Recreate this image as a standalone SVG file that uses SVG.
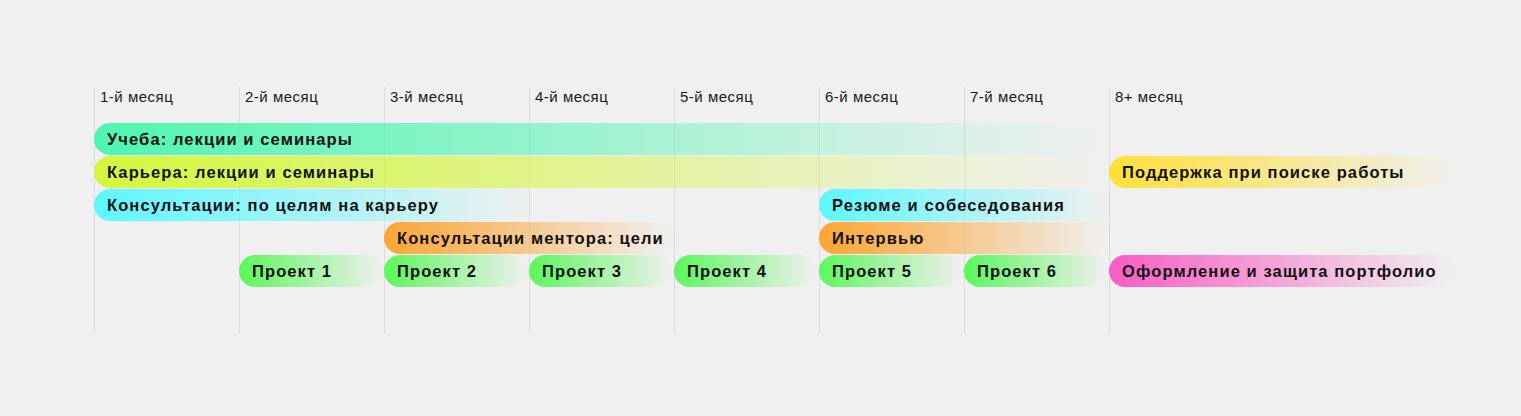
<svg xmlns="http://www.w3.org/2000/svg" width="1521" height="416" viewBox="0 0 1521 416">
<style>
.bg{fill:#f0f0f0}
.grid{stroke:#dcdcdc;stroke-width:1}
.hdr{font-family:"Liberation Sans",Arial,sans-serif;font-size:15px;letter-spacing:0.5px;fill:#1a1a1a}
.lbl{font-family:"Liberation Sans",Arial,sans-serif;font-size:16.5px;letter-spacing:1.1px;font-weight:bold;fill:#111}
</style>
<defs>
<linearGradient id="gMint" x1="0" y1="0" x2="1" y2="0"><stop offset="0" stop-color="#4ef6b2"/><stop offset="1" stop-color="#4ef6b2" stop-opacity="0"/></linearGradient>
<linearGradient id="gLime" x1="0" y1="0" x2="1" y2="0"><stop offset="0" stop-color="#d4f73c"/><stop offset="1" stop-color="#d4f73c" stop-opacity="0"/></linearGradient>
<linearGradient id="gCyan" x1="0" y1="0" x2="1" y2="0"><stop offset="0" stop-color="#5cf8ff"/><stop offset="1" stop-color="#5cf8ff" stop-opacity="0"/></linearGradient>
<linearGradient id="gOrange" x1="0" y1="0" x2="1" y2="0"><stop offset="0" stop-color="#fca534"/><stop offset="1" stop-color="#fca534" stop-opacity="0"/></linearGradient>
<linearGradient id="gGreen" x1="0" y1="0" x2="1" y2="0"><stop offset="0" stop-color="#5cf75c"/><stop offset="1" stop-color="#5cf75c" stop-opacity="0"/></linearGradient>
<linearGradient id="gYellow" x1="0" y1="0" x2="1" y2="0"><stop offset="0" stop-color="#ffe036"/><stop offset="1" stop-color="#ffe036" stop-opacity="0"/></linearGradient>
<linearGradient id="gPink" x1="0" y1="0" x2="1" y2="0"><stop offset="0" stop-color="#f85ec4"/><stop offset="1" stop-color="#f85ec4" stop-opacity="0"/></linearGradient>
</defs>
<rect class="bg" x="0" y="0" width="1521" height="416"/>
<g id="grid">
<line class="grid" x1="94.5" y1="87" x2="94.5" y2="333"/>
<line class="grid" x1="239.5" y1="87" x2="239.5" y2="333"/>
<line class="grid" x1="384.5" y1="87" x2="384.5" y2="333"/>
<line class="grid" x1="529.5" y1="87" x2="529.5" y2="333"/>
<line class="grid" x1="674.5" y1="87" x2="674.5" y2="333"/>
<line class="grid" x1="819.5" y1="87" x2="819.5" y2="333"/>
<line class="grid" x1="964.5" y1="87" x2="964.5" y2="333"/>
<line class="grid" x1="1109.5" y1="87" x2="1109.5" y2="333"/>
</g>
<g id="headers">
<text class="hdr" x="100" y="102">1-й месяц</text>
<text class="hdr" x="245" y="102">2-й месяц</text>
<text class="hdr" x="390" y="102">3-й месяц</text>
<text class="hdr" x="535" y="102">4-й месяц</text>
<text class="hdr" x="680" y="102">5-й месяц</text>
<text class="hdr" x="825" y="102">6-й месяц</text>
<text class="hdr" x="970" y="102">7-й месяц</text>
<text class="hdr" x="1115" y="102">8+ месяц</text>
</g>
<g id="study"><rect x="94" y="123" width="1010" height="32" rx="16" fill="url(#gMint)"/><text class="lbl" x="107" y="145">Учеба: лекции и семинары</text></g>
<g id="career"><rect x="94" y="156" width="1010" height="32" rx="16" fill="url(#gLime)"/><text class="lbl" x="107" y="178">Карьера: лекции и семинары</text></g>
<g id="consult"><rect x="94" y="189" width="438" height="32" rx="16" fill="url(#gCyan)"/><text class="lbl" x="107" y="211">Консультации: по целям на карьеру</text></g>
<g id="mentor"><rect x="384" y="222" width="290" height="32" rx="16" fill="url(#gOrange)"/><text class="lbl" x="397" y="244">Консультации ментора: цели</text></g>
<g id="p1"><rect x="239" y="255" width="143" height="32" rx="16" fill="url(#gGreen)"/><text class="lbl" x="252" y="277">Проект 1</text></g>
<g id="p2"><rect x="384" y="255" width="143" height="32" rx="16" fill="url(#gGreen)"/><text class="lbl" x="397" y="277">Проект 2</text></g>
<g id="p3"><rect x="529" y="255" width="143" height="32" rx="16" fill="url(#gGreen)"/><text class="lbl" x="542" y="277">Проект 3</text></g>
<g id="p4"><rect x="674" y="255" width="143" height="32" rx="16" fill="url(#gGreen)"/><text class="lbl" x="687" y="277">Проект 4</text></g>
<g id="p5"><rect x="819" y="255" width="143" height="32" rx="16" fill="url(#gGreen)"/><text class="lbl" x="832" y="277">Проект 5</text></g>
<g id="p6"><rect x="964" y="255" width="143" height="32" rx="16" fill="url(#gGreen)"/><text class="lbl" x="977" y="277">Проект 6</text></g>
<g id="resume"><rect x="819" y="189" width="290" height="32" rx="16" fill="url(#gCyan)"/><text class="lbl" x="832" y="211">Резюме и собеседования</text></g>
<g id="interview"><rect x="819" y="222" width="290" height="32" rx="16" fill="url(#gOrange)"/><text class="lbl" x="832" y="244">Интервью</text></g>
<g id="jobsupport"><rect x="1109" y="156" width="346" height="32" rx="16" fill="url(#gYellow)"/><text class="lbl" x="1122" y="178">Поддержка при поиске работы</text></g>
<g id="portfolio"><rect x="1109" y="255" width="346" height="32" rx="16" fill="url(#gPink)"/><text class="lbl" x="1122" y="277">Оформление и защита портфолио</text></g>
<g id="connectors"/>
</svg>
